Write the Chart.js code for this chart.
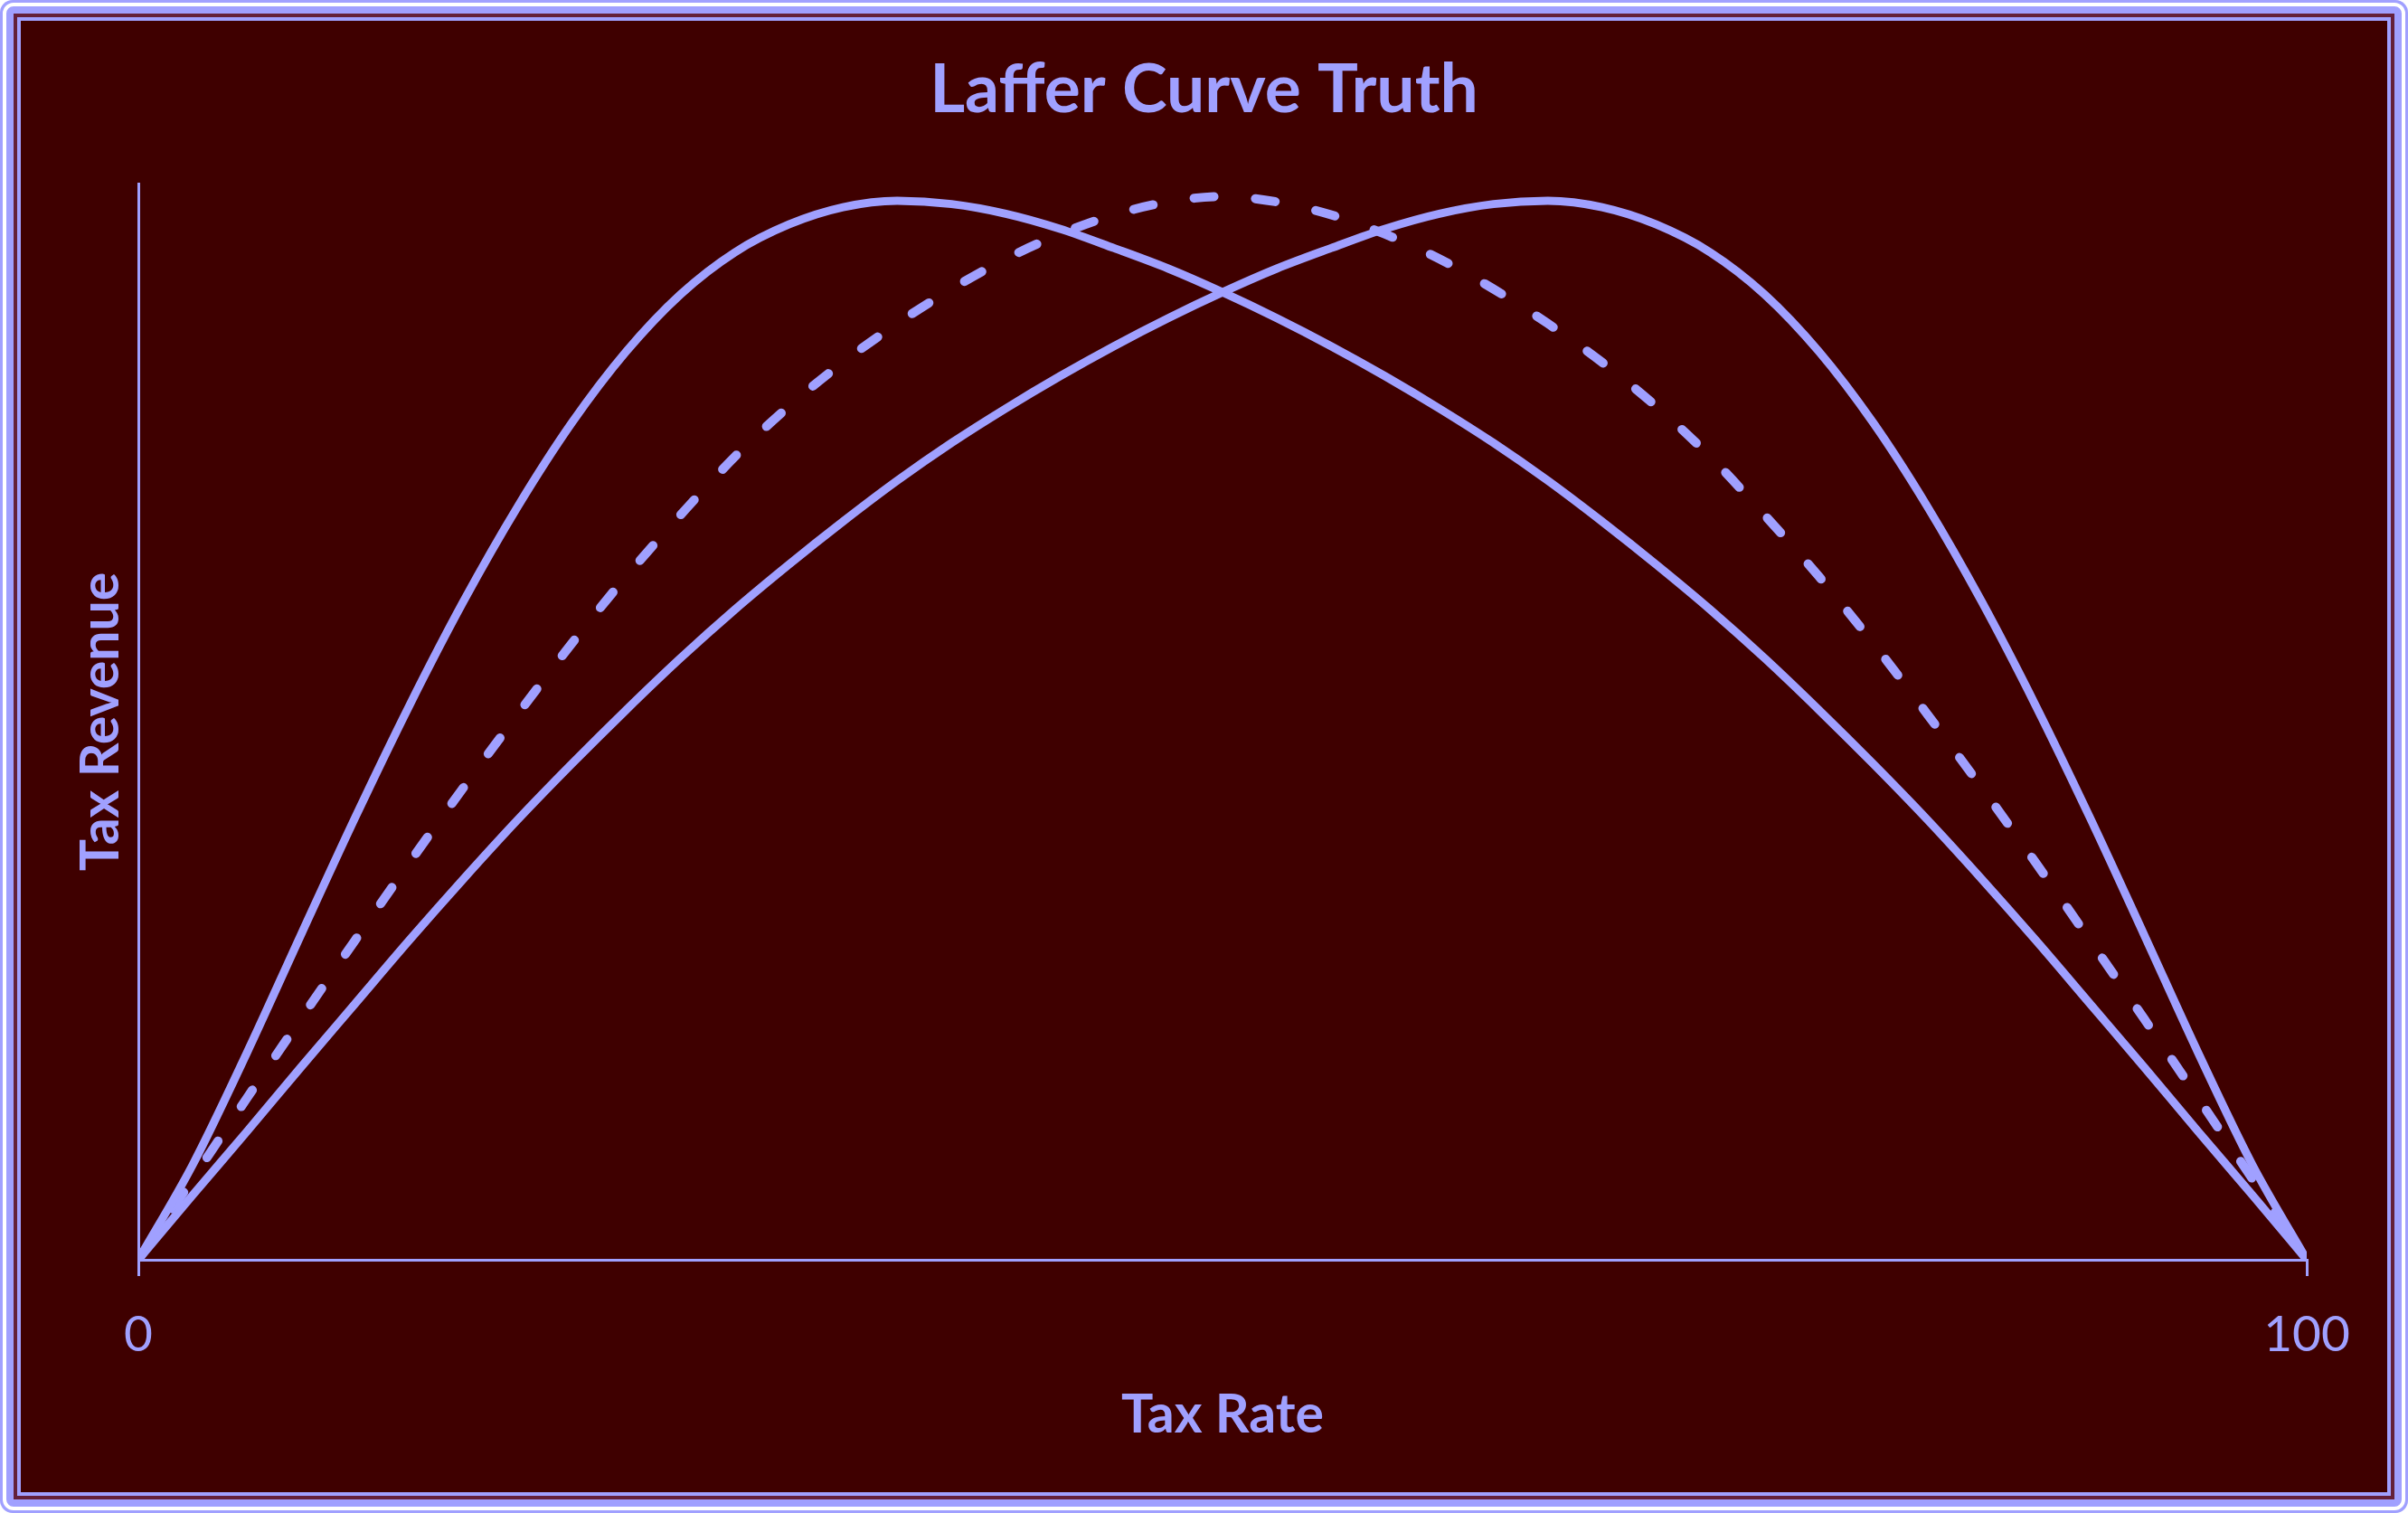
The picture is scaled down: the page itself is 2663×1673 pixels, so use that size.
<!DOCTYPE html>
<html>
<head>
<meta charset="utf-8">
<title>Laffer Curve Truth</title>
<script src="https://cdn.jsdelivr.net/npm/chart.js@4.4.1/dist/chart.umd.min.js"></script>
<style>
  html, body { margin: 0; padding: 0; background: #ffffff; }
  canvas { display: block; }
</style>
</head>
<body>
<canvas id="laffer" width="2663" height="1673" style="width:2663px;height:1673px"></canvas>
<script>
// values (tax rate 0..100, revenue 0..100)
const taxRate = [0, 2.5, 5, 7.5, 10, 12.5, 15, 17.5, 20, 22.5, 25, 27.5, 30, 32.5, 35, 37.5, 40, 42.5, 45, 47.5, 50,
    52.5, 55, 57.5, 60, 62.5, 65, 67.5, 70, 72.5, 75, 77.5, 80, 82.5, 85, 87.5, 90, 92.5, 95, 97.5, 100];
const revenueEarlyPeak = [0, 8.8, 19.2, 30.2, 41.1, 51.5, 61.2, 70.0, 77.8, 84.4, 89.7, 93.6, 96.2, 97.8, 98.4, 98.1, 97.2, 95.8, 94.0, 92.1, 89.9,
    87.5, 84.9, 82.1, 79.1, 75.9, 72.4, 68.6, 64.6, 60.4, 55.9, 51.1, 46.1, 40.9, 35.4, 29.7, 23.8, 17.9, 11.9, 6.0, 0];
const revenueMiddle = [0, 7.5, 15.0, 22.4, 29.7, 36.9, 43.9, 50.7, 57.3, 63.5, 69.2, 74.6, 79.3, 83.4, 87.0, 90.2, 93.0, 95.3, 97.1, 98.3, 98.8,
    98.3, 97.1, 95.3, 93.0, 90.2, 87.0, 83.4, 79.3, 74.6, 69.2, 63.5, 57.3, 50.7, 43.9, 36.9, 29.7, 22.4, 15.0, 7.5, 0];
const revenueLatePeak = [0, 6.0, 11.9, 17.9, 23.8, 29.7, 35.4, 40.9, 46.1, 51.1, 55.9, 60.4, 64.6, 68.6, 72.4, 75.9, 79.1, 82.1, 84.9, 87.5, 89.9,
    92.1, 94.0, 95.8, 97.2, 98.1, 98.4, 97.8, 96.2, 93.6, 89.7, 84.4, 77.8, 70.0, 61.2, 51.5, 41.1, 30.2, 19.2, 8.8, 0];
const xTicks = [0, 100];

const lav = '#a0a0ff';
const bg = '#3f0000';

function points(ys) {
    return taxRate.map((x, i) => ({ x: x, y: ys[i] }));
}

// double frame round the picture
const framePlugin = {
    id: 'frame',
    beforeDraw(chart) {
        const ctx = chart.ctx;
        const w = chart.width, h = chart.height;
        ctx.save();
        ctx.fillStyle = lav;
        ctx.beginPath();
        ctx.roundRect(0, 0, w, h, 14);
        ctx.fill();
        ctx.strokeStyle = '#ffffff';
        ctx.lineWidth = 4;
        ctx.beginPath();
        ctx.roundRect(5, 5, w - 10, h - 10, 10);
        ctx.stroke();
        ctx.fillStyle = '#64203a';
        ctx.fillRect(15, 15, w - 30, h - 30);
        ctx.fillStyle = lav;
        ctx.fillRect(19, 19, w - 38, h - 38);
        ctx.fillStyle = bg;
        ctx.fillRect(23, 23, w - 46, h - 46);
        ctx.restore();
    }
};

const solid = {
    borderColor: lav,
    borderWidth: 9,
    pointRadius: 0,
    fill: false,
    cubicInterpolationMode: 'monotone',
    borderJoinStyle: 'round'
};

new Chart(document.getElementById('laffer'), {
    type: 'line',
    data: {
        datasets: [
            Object.assign({ label: 'Early peak', data: points(revenueEarlyPeak) }, solid),
            Object.assign({ label: 'Late peak', data: points(revenueLatePeak) }, solid),
            {
                label: 'Symmetric',
                data: points(revenueMiddle),
                borderColor: lav,
                borderWidth: 10,
                borderDash: [22, 46],
                borderCapStyle: 'round',
                pointRadius: 0,
                fill: false,
                cubicInterpolationMode: 'monotone'
            }
        ]
    },
    options: {
        responsive: false,
        animation: false,
        devicePixelRatio: 1,
        layout: { padding: 0 },
        plugins: {
            legend: { display: false },
            tooltip: { enabled: false },
            title: {
                display: true,
                text: 'Laffer Curve Truth',
                color: lav,
                font: { family: 'Lato', size: 75, weight: 'bold' },
                padding: { top: 55, bottom: 58 }
            }
        },
        scales: {
            x: {
                type: 'linear',
                min: 0,
                max: 100,
                afterBuildTicks: (s) => { s.ticks = xTicks.map(v => ({ value: v })); },
                afterFit: (s) => { s.height = 280; },
                grid: { drawOnChartArea: false, drawTicks: true, tickLength: 18, color: lav, lineWidth: 3 },
                border: { display: true, color: lav, width: 3 },
                ticks: {
                    color: lav,
                    font: { family: 'Lato', size: 55 },
                    padding: 32,
                    maxRotation: 0,
                    autoSkip: false
                },
                title: {
                    display: true,
                    text: 'Tax Rate',
                    color: lav,
                    font: { family: 'Lato', size: 59, weight: 'bold' },
                    padding: { top: 0, bottom: 73 }
                }
            },
            y: {
                min: 0,
                max: 100,
                afterFit: (s) => { s.width = 153; },
                grid: { display: false },
                border: { display: true, color: lav, width: 3 },
                ticks: { display: false },
                title: {
                    display: true,
                    text: 'Tax Revenue',
                    color: lav,
                    font: { family: 'Lato', size: 59, weight: 'bold' },
                    padding: { top: 77, bottom: 0 }
                }
            },
            // empty right-hand strip, keeps the plot's right edge where it is
            yRight: {
                position: 'right',
                min: 0,
                max: 100,
                afterFit: (s) => { s.width = 112; },
                grid: { display: false },
                border: { display: false },
                ticks: { display: false }
            }
        }
    },
    plugins: [framePlugin]
});
</script>
</body>
</html>
